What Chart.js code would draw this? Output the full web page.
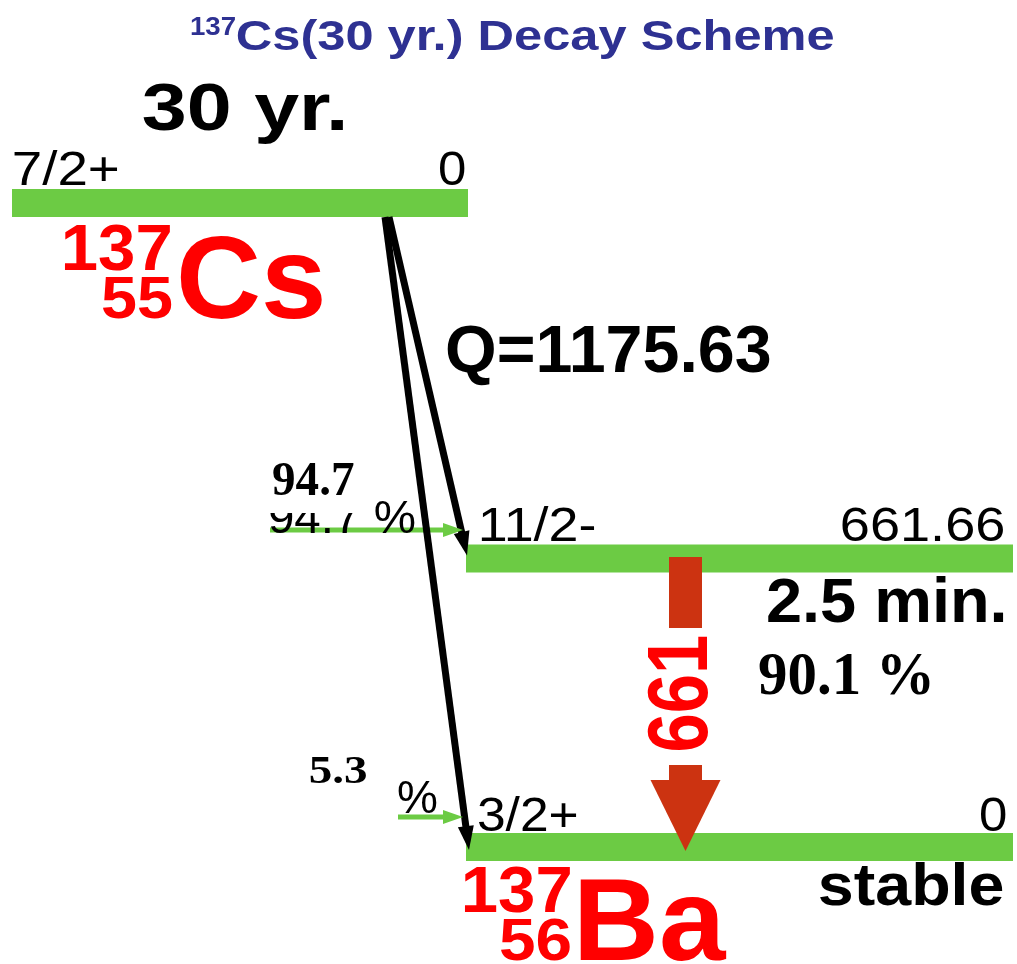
<!DOCTYPE html>
<html>
<head>
<meta charset="utf-8">
<script src="https://cdn.jsdelivr.net/npm/chart.js@4"></script>
<style>
html,body{margin:0;padding:0;background:#fff;}
canvas{display:block;}
</style>
</head>
<body>
<canvas id="c" width="1017" height="964"></canvas>
<script>
// ---------------- data ----------------
const nuclideMass   = ['137', '137'];
const nuclideZ      = ['55', '56'];
const nuclideSymbol = ['Cs', 'Ba'];
const levelSpins    = ['7/2+', '11/2-', '3/2+'];
const levelEnergies = ['0', '661.66', '0'];
const levelHalfLives= ['30 yr.', '2.5 min.', 'stable'];
const betaBranches  = [94.7, 5.3];          // % feeding of level 1 and level 2
const betaTargets   = [1, 2];
const gammaEnergies = [661];
const gammaIntensities = [90.1];
const qValue = '1175.63';

// ---------------- layout (schematic units) ----------------
const L = {
  levelY: [203, 558.5, 847],
  levelX: [[12, 468], [466, 1013], [466, 1013]],
  levelThick: 28,
  betaStartX: [389, 385],
  betaTipX: [467, 469],
  feedStartX: [270, 398],
  feedY: [530, 817],
  gammaX: 685.5
};
const GREEN = 'rgb(108,203,68)';
const GRED = 'rgb(204,51,17)';
const SANS = '"Liberation Sans", Arial, sans-serif';
const SERIF = '"Liberation Serif", "Times New Roman", serif';

// ---------------- datasets ----------------
const datasets = [];
L.levelY.forEach((y, i) => {
  datasets.push({type:'line', data:[{x:L.levelX[i][0], y}, {x:L.levelX[i][1], y}],
    borderColor: GREEN, borderWidth: L.levelThick, borderCapStyle:'butt',
    pointRadius:0, order:10, fill:false});
});
function shortened(x0, y0, x1, y1, d) {
  const len = Math.hypot(x1-x0, y1-y0);
  return {x: x1 - (x1-x0)/len*d, y: y1 - (y1-y0)/len*d};
}
betaBranches.forEach((b, i) => {
  const t = betaTargets[i];
  const y0 = L.levelY[0] + L.levelThick/2;
  const tipY = L.levelY[t] - L.levelThick/2 + (t === 1 ? 11 : 17);
  const end = shortened(L.betaStartX[i], y0, L.betaTipX[i], tipY, 16);
  datasets.push({type:'line', data:[{x:L.betaStartX[i], y:y0}, end],
    borderColor:'#000', borderWidth:7, borderCapStyle:'butt', pointRadius:0, order:2,
    arrowTip:{x:L.betaTipX[i], y:tipY}, headLen:24, headHalf:8, headColor:'#000'});
});
betaBranches.forEach((b, i) => {
  const tipX = 463;
  datasets.push({type:'line', data:[{x:L.feedStartX[i], y:L.feedY[i]}, {x:tipX-18, y:L.feedY[i]}],
    borderColor: GREEN, borderWidth:5, borderCapStyle:'butt', pointRadius:0, order:3,
    arrowTip:{x:tipX, y:L.feedY[i]}, headLen:20, headHalf:7, headColor:GREEN});
});

// ---------------- helpers ----------------
function txt(ctx, s, o) {
  ctx.save();
  ctx.font = `${o.weight||'normal'} ${o.size}px ${o.family||SANS}`;
  ctx.fillStyle = o.color || '#000';
  ctx.textAlign = 'left';
  ctx.textBaseline = 'alphabetic';
  const m = ctx.measureText(s);
  const vis = m.actualBoundingBoxLeft + m.actualBoundingBoxRight;
  const sx = o.w ? o.w / vis : 1;
  const left = o.align === 'right' ? o.x - vis*sx : o.x;
  ctx.translate(left + m.actualBoundingBoxLeft*sx, o.y);
  if (o.rot) ctx.rotate(o.rot);
  ctx.scale(sx, 1);
  ctx.fillText(s, 0, 0);
  ctx.restore();
}

const diagramPlugin = {
  id:'diagram',
  afterDatasetsDraw(chart) {
    const ctx = chart.ctx, X = v => chart.scales.x.getPixelForValue(v), Y = v => chart.scales.y.getPixelForValue(v);
    // arrowheads
    chart.data.datasets.forEach(ds => {
      if (!ds.arrowTip) return;
      const p0 = ds.data[0], tip = ds.arrowTip;
      const x0 = X(p0.x), y0 = Y(p0.y), x1 = X(tip.x), y1 = Y(tip.y);
      const len = Math.hypot(x1-x0, y1-y0), ux = (x1-x0)/len, uy = (y1-y0)/len;
      const bx = x1 - ux*ds.headLen, by = y1 - uy*ds.headLen;
      ctx.save(); ctx.fillStyle = ds.headColor; ctx.beginPath();
      ctx.moveTo(x1, y1);
      ctx.lineTo(bx - uy*ds.headHalf, by + ux*ds.headHalf);
      ctx.lineTo(bx + uy*ds.headHalf, by - ux*ds.headHalf);
      ctx.closePath(); ctx.fill(); ctx.restore();
    });
    // gamma arrow
    const gx = X(L.gammaX), hw = 16.5;
    ctx.save(); ctx.fillStyle = GRED;
    ctx.fillRect(gx - hw, Y(557), hw*2, Y(628) - Y(557));
    ctx.fillRect(gx - hw, Y(765), hw*2, Y(781) - Y(765));
    ctx.beginPath(); ctx.moveTo(gx - 35, Y(780)); ctx.lineTo(gx + 35, Y(780)); ctx.lineTo(gx, Y(851)); ctx.closePath(); ctx.fill();
    ctx.restore();
  },
  afterDraw(chart) {
    const ctx = chart.ctx, X = v => chart.scales.x.getPixelForValue(v), Y = v => chart.scales.y.getPixelForValue(v);
    // title
    txt(ctx, nuclideMass[0], {x:X(191), y:Y(35), w:44, size:25, weight:'bold', color:'#2E3192'});
    txt(ctx, nuclideSymbol[0] + '(' + levelHalfLives[0] + ') Decay Scheme', {x:X(237), y:Y(50), w:596, size:42, weight:'bold', color:'#2E3192'});
    // half lives
    txt(ctx, levelHalfLives[0], {x:X(143), y:Y(130), w:200, size:67, weight:'bold'});
    txt(ctx, levelHalfLives[1], {x:X(768), y:Y(622), w:236, size:63, weight:'bold'});
    txt(ctx, levelHalfLives[2], {x:X(820), y:Y(905), w:183, size:60, weight:'bold'});
    // spins and energies
    const spinX = [14, 481, 478], spinW = [104, 114, 99], labY = [185, 541, 831], enR = [465, 1004, 1006];
    levelSpins.forEach((s, i) => {
      txt(ctx, s, {x:X(spinX[i]), y:Y(labY[i]), w:spinW[i], size:49});
      txt(ctx, levelEnergies[i], {x:X(enR[i]), y:Y(labY[i]), size:49, align:'right',
        w: levelEnergies[i].length > 1 ? 162 : 26});
    });
    // nuclide labels
    const nucX = [65, 465], nucTop = [270, 912], nucZX = [102, 500], nucZY = [318, 960], symX = [180, 580], symW = [142, 147];
    nuclideSymbol.forEach((s, i) => {
      txt(ctx, nuclideMass[i], {x:X(nucX[i]), y:Y(nucTop[i]), w:105, size:64, weight:'bold', color:'#FF0000'});
      txt(ctx, nuclideZ[i], {x:X(nucZX[i]), y:Y(nucZY[i]), w:70, size:59, weight:'bold', color:'#FF0000'});
      txt(ctx, s, {x:X(symX[i]), y:Y(nucZY[i]), w:symW[i], size:116, weight:'bold', color:'#FF0000'});
    });
    // Q value
    txt(ctx, 'Q=' + qValue, {x:X(447), y:Y(372), w:323, size:66, weight:'bold'});
    // beta branch labels
    txt(ctx, betaBranches[0].toFixed(1) + ' %', {x:X(270), y:Y(533), w:145, size:46});
    ctx.save(); ctx.fillStyle = '#fff'; ctx.fillRect(X(262), Y(448), X(373)-X(262), Y(513)-Y(448)); ctx.restore();
    txt(ctx, betaBranches[0].toFixed(1), {x:X(273), y:Y(495), w:81, size:49, weight:'bold', family:SERIF});
    txt(ctx, '%', {x:X(398), y:Y(813), w:39, size:46});
    txt(ctx, betaBranches[1].toFixed(1), {x:X(310), y:Y(783), w:57, size:39, weight:'bold', family:SERIF});
    // gamma labels
    txt(ctx, gammaIntensities[0].toFixed(1) + ' %', {x:X(759), y:Y(694), w:171, size:61, weight:'bold', family:SERIF});
    ctx.save();
    ctx.font = `bold 82px ${SANS}`;
    const m = ctx.measureText(String(gammaEnergies[0]));
    const vis = m.actualBoundingBoxLeft + m.actualBoundingBoxRight;
    const capH = m.actualBoundingBoxAscent;
    ctx.translate(X(707), Y(750));
    ctx.rotate(-Math.PI/2);
    ctx.scale(114/vis, 59/capH);
    ctx.fillStyle = '#FF0000';
    ctx.fillText(String(gammaEnergies[0]), m.actualBoundingBoxLeft, 0);
    ctx.restore();
  }
};

new Chart(document.getElementById('c'), {
  type:'scatter',
  data:{datasets},
  options:{
    responsive:false, animation:false,
    layout:{padding:0},
    plugins:{legend:{display:false}, tooltip:{enabled:false}, title:{display:false}},
    scales:{
      x:{type:'linear', min:0, max:1017, display:false},
      y:{type:'linear', min:0, max:964, reverse:true, display:false}
    },
    elements:{line:{tension:0}}
  },
  plugins:[diagramPlugin]
});
</script>
</body>
</html>
